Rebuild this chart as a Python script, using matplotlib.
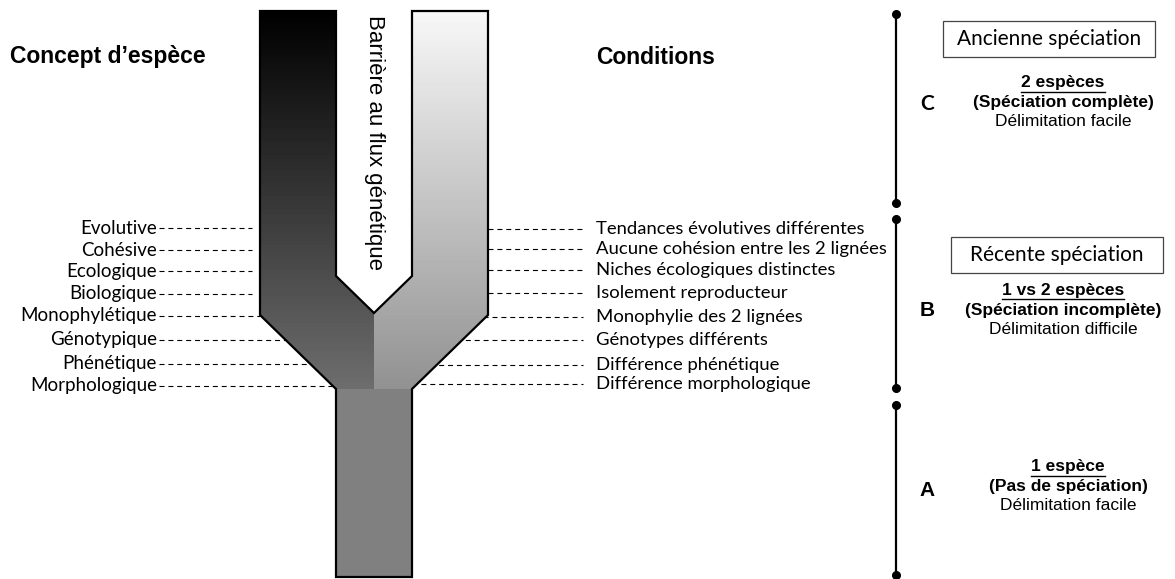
import numpy as np
import matplotlib
matplotlib.use("Agg")
import matplotlib.pyplot as plt
from matplotlib.patches import Polygon, Rectangle

# species concepts (left) and matching conditions (right), top to bottom
concepts = ["Evolutive", "Cohésive", "Ecologique", "Biologique", "Monophylétique",
            "Génotypique", "Phénétique", "Morphologique"]
concept_y = [228, 250, 271, 294, 316, 340, 364, 386]
concept_dash_end = [252, 252, 252, 252, 260, 336, 336, 336]

conditions = ["Tendances évolutives différentes", "Aucune cohésion entre les 2 lignées",
              "Niches écologiques distinctes", "Isolement reproducteur",
              "Monophylie des 2 lignées", "Génotypes différents",
              "Différence phénétique", "Différence morphologique"]
condition_y = [229, 249, 270, 293, 317, 340, 365, 384]
condition_dash_start = [488, 488, 488, 488, 412, 412, 412, 412]

# the "Y" shaped lineage outline
shape_x = [260, 336, 336, 374, 412, 412, 488, 488, 412, 412, 336, 336, 260]
shape_y = [11, 11, 276, 313, 276, 11, 11, 315, 389, 577, 577, 389, 315]

# stages on the right: letter, segment, box title, three text lines
stages = ["C", "B", "A"]
stage_top = [14, 219, 405]
stage_bot = [203, 388, 575]
stage_letter_y = [104, 310, 490]
stage_box = ["Ancienne spéciation", "Récente spéciation", None]
stage_box_x = [943, 951, None]
stage_box_y = [21, 237, None]
stage_line1 = ["2 espèces", "1 vs 2 espèces", "1 espèce"]
stage_line2 = ["(Spéciation complète)", "(Spéciation incomplète)", "(Pas de spéciation)"]
stage_line3 = ["Délimitation facile", "Délimitation difficile", "Délimitation facile"]
stage_text_y = [83, 290, 467]

W, H = 1175, 579
fig = plt.figure(figsize=(W / 100, H / 100), dpi=100)
ax = fig.add_axes([0, 0, 1, 1])
ax.set_xlim(0, W)
ax.set_ylim(H, 0)
ax.axis("off")

arial = "Liberation Sans"
calib = "Lato"
dash = (0, (4.5, 3.5))

# gradient fill clipped to the Y shape
x0, x1, y0, y1 = 260, 488, 11, 577
xs = np.arange(x0, x1) + 0.5
ys = np.arange(y0, y1) + 0.5
X, Y = np.meshgrid(xs, ys)
t = (Y - 11) / (389 - 11)
left = 0.0 + 0.43 * t
right = 0.97 - 0.40 * t
img = np.where(X < 374, left, right)
img = np.where(Y >= 389, 0.5, img)
poly = Polygon(list(zip(shape_x, shape_y)), closed=True, fc="none", ec="black", lw=1.6, zorder=4)
ax.add_patch(poly)
im = ax.imshow(img, cmap="gray", vmin=0, vmax=1, extent=(x0, x1, y1, y0),
               interpolation="bilinear", zorder=3, aspect="auto")
im.set_clip_path(poly)

ax.text(374, 15, "Barrière au flux génétique", rotation=-90, ha="center", va="top",
        fontsize=16, family=arial, zorder=5)

# titles
ax.text(10, 57, "Concept d\u2019espèce", fontsize=16.5, fontweight="bold", family=arial, va="center")
ax.text(596, 57, "Conditions", fontsize=16.5, fontweight="bold", family=arial, va="center")

for lab, y, xe in zip(concepts, concept_y, concept_dash_end):
    ax.text(157, y, lab, ha="right", va="center", fontsize=13.5, family=calib)
    ax.plot([159, xe], [y, y], ls=dash, color="black", lw=0.8, zorder=2)

for lab, y, xs_ in zip(conditions, condition_y, condition_dash_start):
    ax.text(596, y, lab, ha="left", va="center", fontsize=13.3, family=calib)
    ax.plot([xs_, 583], [y, y], ls=dash, color="black", lw=0.8, zorder=2)

under = []
for i in range(3):
    ax.plot([896, 896], [stage_top[i], stage_bot[i]], color="black", lw=1.6)
    ax.plot([896, 896], [stage_top[i], stage_bot[i]], "o", color="black", ms=5.5, lw=0)
    ax.text(927, stage_letter_y[i], stages[i], ha="center", va="center", fontsize=15,
            fontweight="bold", family=calib if i == 0 else arial)
    if stage_box[i]:
        bx, by = stage_box_x[i], stage_box_y[i]
        ax.add_patch(Rectangle((bx, by), 212, 36, fc="white", ec="#444444", lw=0.9))
        ax.text(bx + 106, by + 18, stage_box[i], ha="center", va="center", fontsize=15,
                family=calib)
    ty = stage_text_y[i]
    cx = 1063 if i < 2 else 1068
    tt = ax.text(cx, ty, stage_line1[i], ha="center", va="center", fontsize=12.5,
                 fontweight="bold", family=arial)
    under.append(tt)
    ax.text(cx, ty + 20, stage_line2[i], ha="center", va="center", fontsize=12.5,
            fontweight="bold", family=arial)
    ax.text(cx, ty + 39, stage_line3[i], ha="center", va="center", fontsize=12.5, family=arial)

fig.canvas.draw()
inv = ax.transData.inverted()
for tt in under:
    bb = tt.get_window_extent()
    (a, b), (c, d) = inv.transform([[bb.x0, bb.y0], [bb.x1, bb.y1]])
    ax.plot([a, c], [b + 1, b + 1], color="black", lw=1.0)

fig.savefig("out.png", dpi=100)
